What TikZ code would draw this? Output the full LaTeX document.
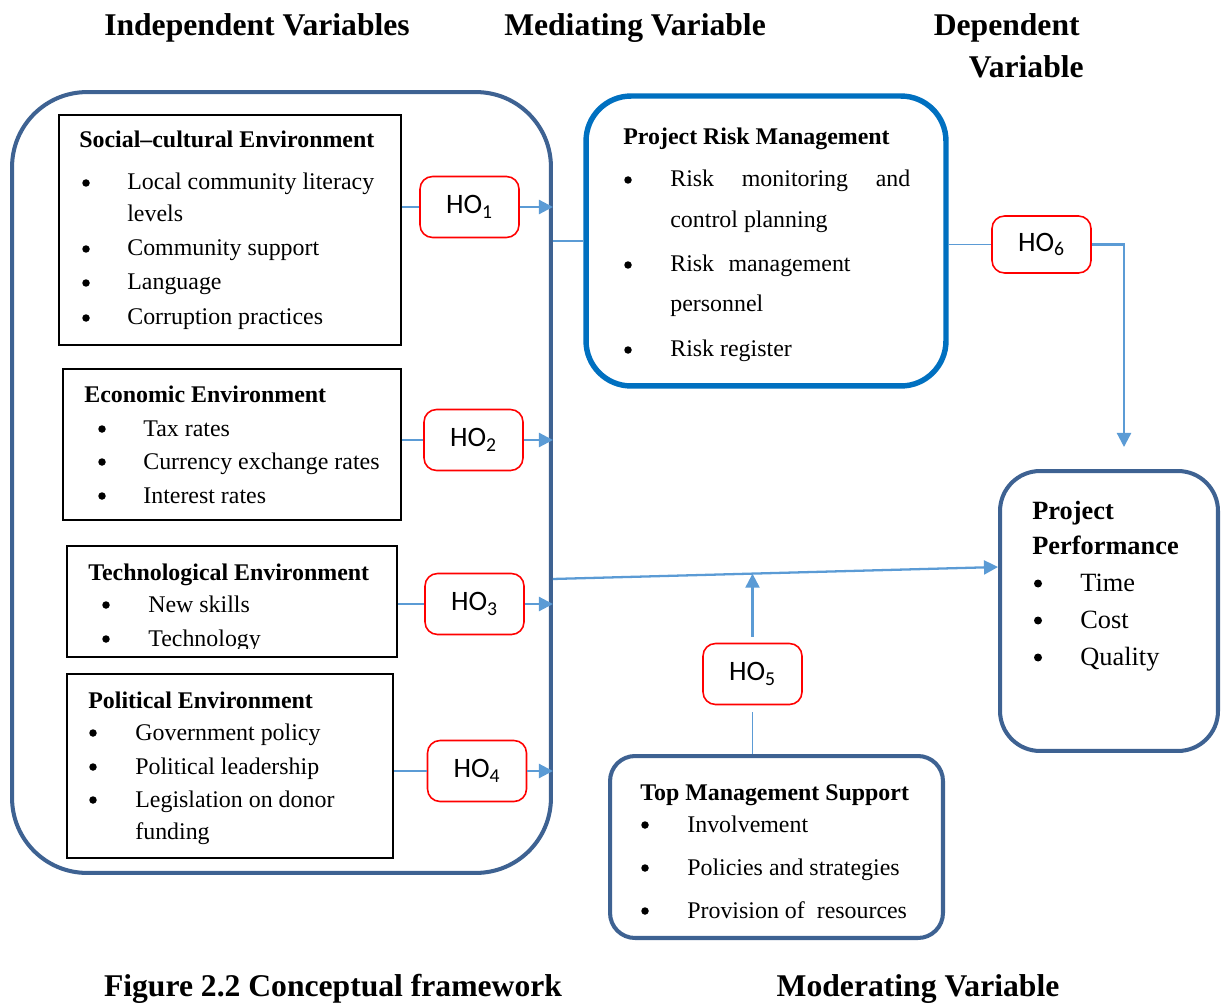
\documentclass[tikz,border=0pt]{standalone}
\usepackage{fontspec}
\setmainfont{Liberation Serif}
\newfontfamily\calibri{Carlito}
\usetikzlibrary{arrows.meta}
\definecolor{frameblue}{HTML}{3E6292}
\definecolor{prmblue}{HTML}{0070C0}
\definecolor{linkblue}{HTML}{5B9BD5}

\begin{document}
\begin{tikzpicture}[x=0.02cm,y=-0.02cm,
  title/.style={font=\fontsize{18}{21}\selectfont\bfseries,inner sep=0pt,anchor=base},
  head/.style={font=\fontsize{13.6}{16}\selectfont\bfseries,inner sep=0pt,anchor=base west},
  item/.style={font=\fontsize{13.6}{16}\selectfont,inner sep=0pt,anchor=base west},
  bul/.style={circle,fill,inner sep=0pt,minimum size=0.15cm,yshift=0.14cm},
  big/.style={font=\fontsize{15}{18}\selectfont},
  envbox/.style={draw,line width=1.1pt},
  varbox/.style={draw=frameblue,line width=2.3pt},
  hobox/.style={draw=red,line width=0.9pt,rounded corners=0.25cm,minimum width=1.98cm,
    minimum height=1.22cm,font=\calibri\fontsize{16}{18}\selectfont},
  link/.style={draw=linkblue,line width=0.75pt},
  arr/.style={draw=linkblue,line width=1.3pt,-{Triangle[length=8pt,width=8pt]}}]

\useasboundingbox (0,0) rectangle (1223,1003);

% headings
\node[title] (tind) at (257,36) {Independent Variables};
\node[title] (tmed) at (635,36) {Mediating Variable};
\node[title,anchor=base east] (tdep) at (1080,36) {Dependent};
\node[title,anchor=base east] (tdep2) at (1084,78) {Variable};
\node[title] (tfig) at (333,996) {Figure 2.2 Conceptual framework};
\node[title] (tmod) at (918,996) {Moderating Variable};

% independent variables
\node[varbox,rounded corners=1.5cm,minimum width=10.78cm,minimum height=15.62cm] (frame) at (281.5,482.5) {};

\node[envbox,minimum width=6.84cm,minimum height=4.6cm] (soc) at (230,230) {};
\node[head] (soch) at (79,148) {Social–cultural Environment};
\foreach \b/\t/\y [count=\i] in {1/Local community literacy/190,0/levels/222,
    1/Community support/256,1/Language/290,1/Corruption practices/325}{
  \ifnum\b=1 \node[bul] (socb\i) at (86,\y) {}; \fi
  \node[item] (soc\i) at (127,\y) {\t};
}

\node[envbox,minimum width=6.76cm,minimum height=3.02cm] (eco) at (232,444.5) {};
\node[head] (ecoh) at (84,402) {Economic Environment};
\foreach \t/\y [count=\i] in {Tax rates/436,Currency exchange rates/469,Interest rates/503}{
  \node[bul] (ecob\i) at (102,\y) {};
  \node[item] (eco\i) at (143,\y) {\t};
}

\node[envbox,minimum width=6.6cm,minimum height=2.22cm] (tech) at (232,601.5) {};
\node[head] (techh) at (88,580) {Technological Environment};
\begin{scope}
  \clip (67,546) rectangle (397,648);
  \foreach \t/\y [count=\i] in {New skills/612,Technology/646}{
    \node[bul] (techb\i) at (106,\y) {};
    \node[item] (tech\i) at (148,\y) {\t};
  }
\end{scope}

\node[envbox,minimum width=6.52cm,minimum height=3.68cm] (pol) at (230,766) {};
\node[head] (polh) at (88,708) {Political Environment};
\foreach \b/\t/\y [count=\i] in {1/Government policy/740,1/Political leadership/774,
    1/Legislation on donor/807,0/funding/839}{
  \ifnum\b=1 \node[bul] (polb\i) at (93,\y) {}; \fi
  \node[item] (pol\i) at (135,\y) {\t};
}

% mediating variable
\node[draw=prmblue,line width=3.1pt,rounded corners=0.9cm,minimum width=7.2cm,minimum height=5.8cm] (prm) at (766,241) {};
\node[head] (prmh) at (623,145) {Project Risk Management};
\foreach \b/\t/\y [count=\i] in {1/{\makebox[4.8cm][s]{Risk monitoring and}}/187,0/control planning/228,
    1/{Risk\hspace{0.6em}management}/272,0/personnel/312,1/Risk register/357}{
  \ifnum\b=1 \node[bul] (prmb\i) at (628,\y) {}; \fi
  \node[item] (prm\i) at (670,\y) {\t};
}

% dependent variable
\node[varbox,rounded corners=0.8cm,minimum width=4.36cm,minimum height=5.6cm] (pp) at (1109,611) {};
\node[item,big] (pph1) at (1032,519) {\bfseries Project};
\node[item,big] (pph2) at (1032,554) {\bfseries Performance};
\foreach \t/\y [count=\i] in {Time/591,Cost/628,Quality/665}{
  \node[bul,minimum size=0.16cm,yshift=0.01cm] (ppb\i) at (1038,\y) {};
  \node[item,big] (pp\i) at (1080,\y) {\t};
}

% moderating variable
\node[varbox,rounded corners=0.5cm,minimum width=6.66cm,minimum height=3.64cm] (tms) at (776.5,847) {};
\node[head] (tmsh) at (640,800) {Top Management Support};
\foreach \t/\y [count=\i] in {Involvement/832,Policies and strategies/875,{Provision of\ \ resources}/918}{
  \node[bul] (tmsb\i) at (645,\y) {};
  \node[item] (tms\i) at (687,\y) {\t};
}

% hypotheses
\node[hobox] (ho1) at (469.5,207) {HO\textsubscript{1}};
\node[hobox] (ho2) at (473.5,440) {HO\textsubscript{2}};
\node[hobox] (ho3) at (474.5,604) {HO\textsubscript{3}};
\node[hobox] (ho4) at (477,771) {HO\textsubscript{4}};
\node[hobox] (ho5) at (752.5,674) {HO\textsubscript{5}};
\node[hobox,minimum height=1.14cm] (ho6) at (1041.5,244.5) {HO\textsubscript{6}};
\coordinate (c6) at (1124,447);

\draw[link] (ho1.west -| soc.east) -- (ho1.west);
\draw[link] (ho2.west -| eco.east) -- (ho2.west);
\draw[link] (ho3.west -| tech.east) -- (ho3.west);
\draw[link] (ho4.west -| pol.east) -- (ho4.west);
\draw[arr] (ho1.east) -- (ho1.east -| frame.east);
\draw[arr] (ho2.east) -- (ho2.east -| frame.east);
\draw[arr] (ho3.east) -- (ho3.east -| frame.east);
\draw[arr] (ho4.east) -- (ho4.east -| frame.east);
\draw[link] (prm.west -| frame.east) -- (prm.west);
\draw[link] (ho6.west -| prm.east) -- (ho6.west);
\draw[arr] (ho6.east) -| (c6);
\draw[arr] ([yshift=-1.93cm]frame.east) -- coordinate[pos=0.445] (m5) ([yshift=0.88cm]pp.west);
\draw[arr] ([yshift=0.12cm]ho5.north) -- (ho5.north |- m5);
\draw[link] ([yshift=-0.14cm]ho5.south) -- (ho5.south |- tms.north);
\end{tikzpicture}
\end{document}
